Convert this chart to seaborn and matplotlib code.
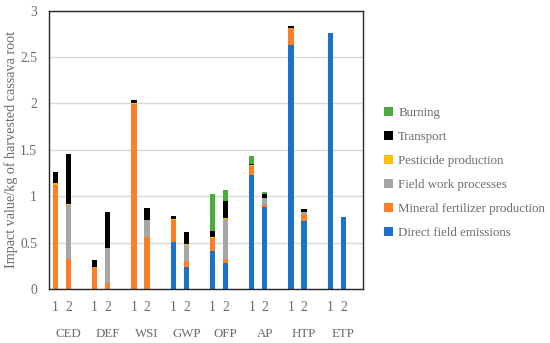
import matplotlib
matplotlib.use("Agg")
import matplotlib.pyplot as plt
from matplotlib.patches import Patch
import numpy as np
import pandas as pd
import seaborn as sns

# impact categories, two scenarios each
groups = ["CED", "DEF", "WSI", "GWP", "OFP", "AP", "HTP", "ETP"]
scenarios = ["1", "2"]

# contributions per bar (order: CED1, CED2, DEF1, DEF2, ... ETP1, ETP2)
direct = [0, 0, 0, 0, 0, 0, 0.51, 0.24, 0.41, 0.28, 1.23, 0.88, 2.63, 0.735, 2.76, 0.775]
fertilizer = [1.12, 0.32, 0.235, 0.065, 1.99, 0.56, 0.24, 0.065, 0.14, 0.04, 0.10, 0.025, 0.185, 0.06, 0, 0]
fieldwork = [0, 0.59, 0, 0.38, 0, 0.18, 0, 0.175, 0, 0.44, 0, 0.075, 0, 0.04, 0, 0]
pesticide = [0.02, 0.01, 0.005, 0, 0.01, 0, 0.01, 0.005, 0.01, 0.01, 0.005, 0, 0, 0, 0, 0]
transport = [0.12, 0.54, 0.075, 0.39, 0.035, 0.135, 0.03, 0.135, 0.07, 0.18, 0.015, 0.05, 0.02, 0.03, 0, 0]
burning = [0, 0, 0, 0, 0, 0, 0, 0, 0.40, 0.115, 0.085, 0.015, 0, 0, 0, 0]

components = ["Direct field emissions", "Mineral fertilizer production", "Field work processes",
              "Pesticide production", "Transport", "Burning"]
colors = ["#1a73c9", "#ff7f27", "#a6a6a6", "#ffc000", "#000000", "#4aad3b"]
values = [direct, fertilizer, fieldwork, pesticide, transport, burning]

# slots: bar 1, bar 2, empty gap per group
slots = []
bar_slots = []
for g in groups:
    for s in scenarios:
        slots.append(g + s)
        bar_slots.append(g + s)
    slots.append(g + "_gap")

df = pd.DataFrame({"slot": bar_slots})
cum = np.zeros(len(bar_slots))
for name, v in zip(components, values):
    cum = cum + np.array(v)
    df[name] = cum

txt = "#6b6b6b"
fs = 9.3
plt.rcParams["font.family"] = ["Liberation Serif", "DejaVu Serif"]

fig = plt.figure(figsize=(5.5, 3.43), dpi=100)
ax = fig.add_axes([0.089, 0.157, 0.571, 0.812])

ax.yaxis.grid(True, color="#d9d9d9", linewidth=1)
ax.set_axisbelow(True)

# draw cumulative totals top-down so lower layers cover upper ones
for name, c in reversed(list(zip(components, colors))):
    sns.barplot(data=df, x="slot", y=name, order=slots, color=c, width=0.4,
                saturation=1, linewidth=0, ax=ax)

ax.set_xlim(-0.5, len(slots) - 0.5)
ax.set_ylim(0, 3)
ax.set_yticks(np.arange(0, 3.01, 0.5))
ax.set_yticklabels(["0", "0.5", "1", "1.5", "2", "2.5", "3"])

pos = [slots.index(s) for s in bar_slots]
ax.set_xticks(pos)
ax.set_xticklabels(scenarios * len(groups))
ax.tick_params(axis="both", length=0, labelsize=9.8, labelcolor=txt)
ax.tick_params(axis="x", pad=8.5)
ax.tick_params(axis="y", pad=8.5)
for i, g in enumerate(groups):
    ax.text(i * 3 + 1, -0.162, g, transform=ax.get_xaxis_transform(),
            ha="center", va="center", fontsize=fs, color=txt)

ax.set_xlabel("")
ax.set_ylabel("Impact value/kg of harvested cassava root", fontsize=10.2, color=txt)
ax.yaxis.set_label_coords(-0.1, 0.5)
for sp in ax.spines.values():
    sp.set_color("#262626")
    sp.set_linewidth(1)

handles = [Patch(facecolor=c, label=n) for n, c in zip(components, colors)][::-1]
fig.legend(handles=handles, loc="upper left", bbox_to_anchor=(0.698, 0.687), frameon=False,
           fontsize=fs, labelcolor=txt, handlelength=0.7, handleheight=0.7,
           handletextpad=0.4, labelspacing=0.92, borderpad=0, borderaxespad=0)

fig.savefig("out.png", dpi=100)
